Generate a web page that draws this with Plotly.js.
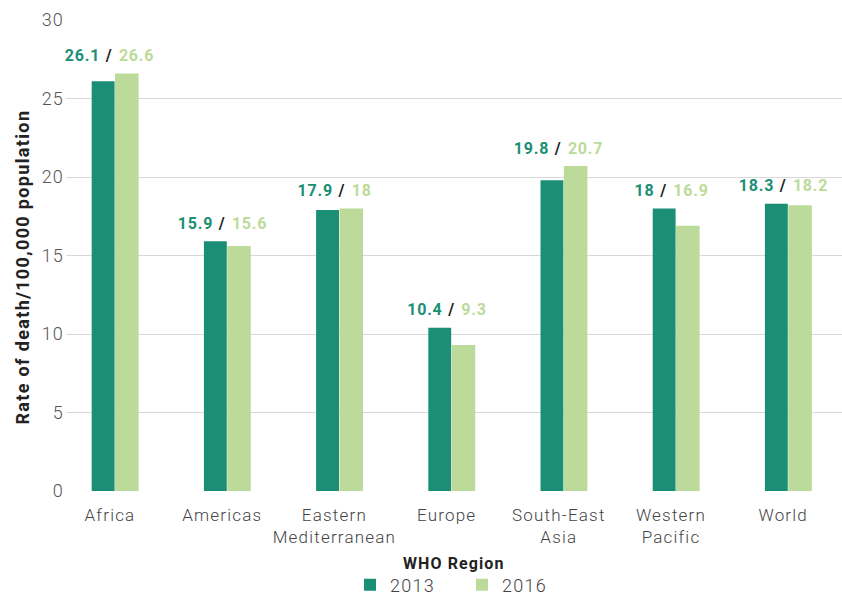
<!DOCTYPE html>
<html><head><meta charset="utf-8">
<script src="https://cdn.plot.ly/plotly-3.0.1.min.js"></script>
<style>
html,body{margin:0;padding:0;background:#fff}#chart{width:842px;height:595px}
#chart .xtick text{letter-spacing:1.2px}
#chart .ytick text{letter-spacing:1.2px}
#chart .legendtext{letter-spacing:1.3px}
#chart .annotation-text{letter-spacing:0.8px}
#chart .ytitle{letter-spacing:1.35px}
</style>
</head><body><div id="chart"></div>
<script>
const categories = ["Africa", "Americas", "Eastern<br>Mediterranean", "Europe", "South-East<br>Asia", "Western<br>Pacific", "World"];
const values2013 = [26.1, 15.9, 17.9, 10.4, 19.8, 18, 18.3];
const values2016 = [26.6, 15.6, 18, 9.3, 20.7, 16.9, 18.2];
const yTicks = [0, 5, 10, 15, 20, 25, 30];
const xTitle = "WHO Region";

const c13 = "#1b8f75", c16 = "#bcdb9a";
const font = "Roboto, 'Noto Sans', sans-serif";

const traces = [
  {type: "bar", name: "2013", x: categories, y: values2013, marker: {color: c13}, width: 0.204, offset: -0.163, hoverinfo: "none"},
  {type: "bar", name: "2016", x: categories, y: values2016, marker: {color: c16}, width: 0.21, offset: 0.045, hoverinfo: "none"}
];

const annotations = categories.map((c, i) => ({
  x: c, y: Math.max(values2013[i], values2016[i]), xref: "x", yref: "y",
  yshift: 18, showarrow: false, yanchor: "middle",
  text: "<b><span style='color:" + c13 + "'>" + values2013[i] + "</span><span style='color:#222;letter-spacing:1.6px'>&nbsp;/&nbsp;</span><span style='color:" + c16 + "'>" + values2016[i] + "</span></b>",
  font: {family: font, size: 16}
}));
annotations.push({
  x: 0.5, y: -0.1529, xref: "paper", yref: "paper", showarrow: false, xanchor: "center", yanchor: "middle",
  text: "<b><span style='letter-spacing:1.1px'>" + xTitle + "</span></b>",
  font: {family: font, size: 16, color: "#222"}
});

const layout = {
  width: 842, height: 595,
  margin: {l: 66, r: 0, t: 20, b: 104},
  paper_bgcolor: "#fff", plot_bgcolor: "#fff",
  font: {family: font, color: "#444", size: 17, weight: 300},
  barmode: "overlay",
  showlegend: true,
  legend: {orientation: "h", x: 0.4157, xanchor: "left", xref: "container", yref: "container", y: 0.0168, yanchor: "middle",
           font: {size: 18, color: "#444", weight: 300}, itemwidth: 30, tracegroupgap: 0,
           entrywidth: 67, entrywidthmode: "pixels"},
  xaxis: {
    type: "category", range: [-0.392, 6.524], showgrid: false, zeroline: false, showline: false, automargin: false,
    ticks: "", tickfont: {size: 17, color: "#444", weight: 300}, ticklabelstandoff: 12
  },
  yaxis: {
    range: [0, 30], tickvals: yTicks, ticktext: yTicks.map(String), automargin: false,
    showgrid: true, gridcolor: "#d9d9d9", gridwidth: 1, zeroline: false, showline: false,
    tickfont: {size: 18, color: "#555", weight: 300}, ticks: "", ticklabelstandoff: 1,
    title: {text: "<b>Rate of death/100,000 population&nbsp;&nbsp;&nbsp;&nbsp;</b>", font: {size: 18, color: "#222", weight: 700}, standoff: 9}
  },
  annotations: annotations
};
Plotly.newPlot("chart", traces, layout, {displayModeBar: false, staticPlot: true});
</script></body></html>
